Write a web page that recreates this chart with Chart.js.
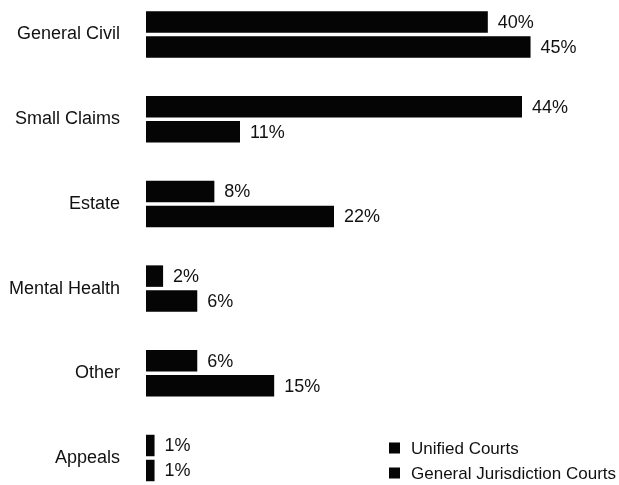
<!DOCTYPE html>
<html>
<head>
<meta charset="utf-8">
<script src="https://cdn.jsdelivr.net/npm/chart.js@4/dist/chart.umd.min.js"></script>
<style>
  html, body { margin: 0; padding: 0; background: #fff; }
  #wrap { position: relative; width: 619px; height: 485px; overflow: hidden; }
  canvas { display: block; }
</style>
</head>
<body>
<div id="wrap"><canvas id="c" width="619" height="485"></canvas></div>
<script>
const categories = ["General Civil", "Small Claims", "Estate", "Mental Health", "Other", "Appeals"];
const unifiedCourts = [40, 44, 8, 2, 6, 1];
const generalJurisdictionCourts = [45, 11, 22, 6, 15, 1];
const seriesLabels = ["Unified Courts", "General Jurisdiction Courts"];

const FONT = "'Liberation Sans', Arial, Helvetica, sans-serif";
const INK = "#111";

const valueLabels = {
  id: "valueLabels",
  afterDatasetsDraw(chart) {
    const ctx = chart.ctx;
    ctx.save();
    ctx.font = "18px " + FONT;
    ctx.fillStyle = INK;
    ctx.textAlign = "left";
    ctx.textBaseline = "middle";
    chart.data.datasets.forEach((ds, di) => {
      const meta = chart.getDatasetMeta(di);
      meta.data.forEach((bar, i) => {
        ctx.fillText(ds.data[i] + "%", bar.x + 10, bar.y + 1);
      });
    });
    ctx.restore();
  }
};

const customLegend = {
  id: "customLegend",
  afterDraw(chart) {
    const ctx = chart.ctx;
    ctx.save();
    ctx.font = "17px " + FONT;
    ctx.textAlign = "left";
    ctx.textBaseline = "middle";
    chart.data.datasets.forEach((ds, di) => {
      const cy = 448 + di * 25;
      ctx.fillStyle = ds.backgroundColor;
      ctx.fillRect(389, cy - 5.5, 11, 11);
      ctx.fillStyle = INK;
      ctx.fillText(ds.label, 411, cy + 1);
    });
    ctx.restore();
  }
};

new Chart(document.getElementById("c"), {
  type: "bar",
  data: {
    labels: categories,
    datasets: [
      { label: seriesLabels[0], data: unifiedCourts, backgroundColor: "#050505", borderWidth: 0, clip: false },
      { label: seriesLabels[1], data: generalJurisdictionCourts, backgroundColor: "#050505", borderWidth: 0, clip: false }
    ]
  },
  options: {
    indexAxis: "y",
    responsive: false,
    animation: false,
    devicePixelRatio: 1,
    layout: { padding: { top: 34.5, bottom: 27, left: 0, right: 3 } },
    datasets: { bar: { categoryPercentage: 0.59, barPercentage: 0.86 } },
    plugins: { legend: { display: false }, tooltip: { enabled: false }, title: { display: false } },
    scales: {
      x: {
        display: false,
        min: 0,
        max: 55
      },
      y: {
        offset: false,
        grid: { display: false, drawTicks: true, tickLength: 26 },
        border: { display: false },
        ticks: {
          padding: 0,
          color: INK,
          font: { family: FONT, size: 18 }
        },
        afterFit(scale) { scale.width = 146; }
      }
    }
  },
  plugins: [valueLabels, customLegend]
});
</script>
</body>
</html>
